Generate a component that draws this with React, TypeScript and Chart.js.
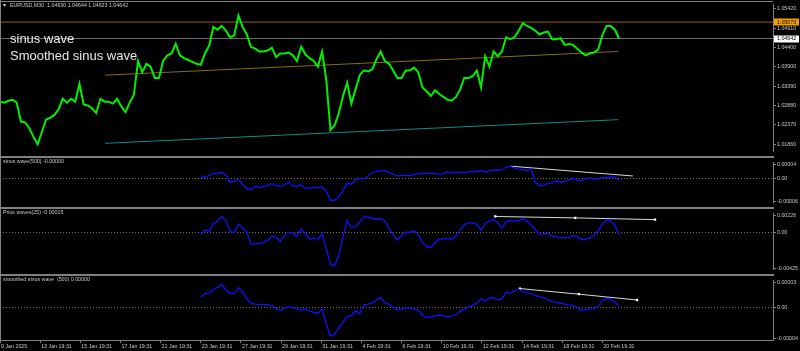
import { useEffect, useRef } from "react";
import { Chart, registerables } from "chart.js";

Chart.register(...registerables);

// ---------------- data ----------------
const DATE_LABELS = [
  "9 Jan 2025", "13 Jan 19:31", "15 Jan 19:31", "17 Jan 19:31", "21 Jan 19:31",
  "23 Jan 19:31", "27 Jan 19:31", "29 Jan 19:31", "31 Jan 19:31", "4 Feb 19:31",
  "6 Feb 19:31", "10 Feb 19:31", "12 Feb 19:31", "14 Feb 19:31", "18 Feb 19:31",
  "20 Feb 19:31",
];
const BARS_PER_LABEL = 96; // M30 bars between date labels
const TOTAL_BARS = 1848; // bars visible in the window
const SAMPLE_BARS = 10; // one sample every 10 bars
const INDICATOR_START_BAR = 480;

const SYMBOL = "EURUSD,M30";
const OHLC = ["1.04630", "1.04644", "1.04623", "1.04642"];

// EURUSD close, sampled every 10 bars from bar 0
const PRICE_CLOSE = [
  1.0298, 1.02955, 1.03005, 1.0303, 1.02955, 1.02457, 1.02432, 1.02283, 1.02059, 1.0186,
  1.02183, 1.02507, 1.02557, 1.02632, 1.02781, 1.03055, 1.02955, 1.03055, 1.0298, 1.03453,
  1.02906, 1.02881, 1.02806, 1.02681, 1.03055, 1.0298, 1.0298, 1.02931, 1.03055, 1.02856,
  1.02706, 1.02955, 1.03155, 1.04051, 1.03752, 1.03976, 1.03902, 1.03603, 1.03603, 1.04051,
  1.042, 1.0425, 1.04499, 1.042, 1.04126, 1.04076, 1.04026, 1.03976, 1.03951, 1.0425,
  1.04449, 1.04947, 1.04873, 1.04972, 1.04848, 1.04674, 1.04723, 1.05246, 1.04947, 1.04748,
  1.04424, 1.04375, 1.043, 1.043, 1.04325, 1.044, 1.04151, 1.0425, 1.0425, 1.04275,
  1.042, 1.04051, 1.04424, 1.04225, 1.04126, 1.04051, 1.03902, 1.043, 1.03553, 1.02233,
  1.02358, 1.02681, 1.0313, 1.03478, 1.02931, 1.03304, 1.03678, 1.03802, 1.03777, 1.03827,
  1.04101, 1.043, 1.04051, 1.03976, 1.03802, 1.03603, 1.03603, 1.03802, 1.03802, 1.03877,
  1.03752, 1.03354, 1.03254, 1.0313, 1.03279, 1.0318, 1.03105, 1.0303, 1.03005, 1.03105,
  1.03304, 1.03603, 1.03603, 1.03653, 1.03802, 1.03354, 1.04176, 1.03902, 1.043, 1.04176,
  1.043, 1.04674, 1.04624, 1.04674, 1.04848, 1.05047, 1.04972, 1.04922, 1.04848, 1.04748,
  1.04798, 1.04823, 1.04624, 1.04624, 1.04649, 1.04474, 1.04499, 1.04474, 1.04375, 1.04275,
  1.042, 1.0425, 1.04275, 1.0435, 1.04723, 1.04972, 1.04972, 1.04873, 1.04642,
];

// sinus wave(500), in millionths
const SINUS_WAVE_MICRO = [
  2.5, 3.5, 6.7, 12.9, 11.9, 15.0, 8.7, -9.4, -7.9, -2.7,
  -14.2, -24.6, -28.7, -19.8, -22.5, -19.4, -17.3, -13.1, -17.3, -19.4,
  -16.2, -9.0, -18.3, -19.4, -16.2, -24.6, -23.5, -22.5, -22.5, -21.5,
  -30.8, -53.7, -53.7, -45.4, -29.8, -12.1, -14.2, -2.7, -0.6, -0.6,
  6.7, 14.0, 17.1, 18.5, 19.2, 14.0, 10.8, 5.6, 7.7, 7.7,
  6.7, 10.8, 11.5, 12.9, 11.9, 12.9, 11.9, 10.8, 11.9, 16.0,
  14.0, 15.0, 15.0, 15.0, 16.0, 17.1, 17.1, 20.2, 15.0, 19.2,
  21.2, 20.2, 21.9, 27.5, 29.6, 25.4, 22.7, 21.9, 20.2, 23.3,
  -10.0, -17.7, -16.2, -12.1, -11.0, -5.8, -9.4, -6.9, -3.7, 0.4,
  -3.7, -5.8, -1.0, 1.5, -1.0, -1.0, 2.5, 3.1, 4.0, 3.1,
  -3.7,
];

// Price waves(25)
const PRICE_WAVES = [
  -0.00013, 0.00033, 0.00017, 0.00104, 0.00134, 0.00185, 0.00144, 0.00017, 0.00002, 0.00101,
  0.00053, 0.00012, -0.0013, -0.00123, -0.00123, -0.0011, -0.00084, -0.00039, -0.00049, -0.001,
  -0.00028, 0.00005, -0.00003, -0.00044, 0.00043, -0.00008, -0.00072, -0.00059, -0.00074, -0.00008,
  -0.00181, -0.00359, -0.00379, -0.00252, -0.00044, 0.00144, 0.00063, 0.0007, 0.00129, 0.00182,
  0.0018, 0.00165, 0.00159, 0.00165, 0.00134, 0.00053, -0.00023, -0.00084, -0.00028, 0.00007,
  0.00007, 0.00022, -0.00018, -0.0011, -0.00156, -0.00171, -0.0011, -0.00069, -0.00066, -0.00066,
  -0.00071, -0.00039, 0.00038, 0.00094, 0.00114, 0.00114, 0.00097, 0.00033, 0.00114, 0.00134,
  0.0016, 0.00114, 0.00053, 0.00129, 0.00147, 0.00136, 0.00139, 0.00162, 0.00132, 0.00091,
  0.00033, -0.00018, -0.00011, -0.00005, -0.00039, -0.00047, -0.00054, -0.00056, -0.00051, -0.00032,
  -0.00044, -0.00074, -0.00074, -0.00057, -0.00037, 0.00029, 0.00099, 0.00147, 0.00139, 0.00088,
  -0.00023,
];

// smoothed sinus wave (500), in millionths
const SMOOTHED_WAVE_MICRO = [
  12.4, 16.2, 16.7, 21.1, 23.5, 27.1, 21.1, 16.7, 16.2, 23.3,
  18.9, 10.2, 5.0, 3.9, 3.8, 3.3, 3.3, 2.0, -1.3, -3.5,
  -0.8, 0.3, 0.1, -1.5, -3.0, -1.6, -4.0, -5.7, -6.9, -1.9,
  -19.4, -33.6, -31.2, -23.7, -17.2, -10.6, -9.5, -4.0, -7.3, 3.1,
  3.9, 5.3, 9.1, 11.8, 5.3, 3.8, 0.3, -2.6, -2.1, -0.5,
  -0.3, -1.9, -3.3, -9.0, -11.7, -11.4, -9.4, -8.9, -9.8, -10.6,
  -10.0, -7.9, -4.6, -1.9, 0.5, 2.2, 5.6, 10.2, 7.7, 11.3,
  11.3, 9.1, 10.2, 17.8, 16.7, 19.1, 21.4, 18.9, 17.3, 16.1,
  14.2, 12.6, 11.3, 9.1, 6.9, 6.0, 5.0, 4.0, 2.8, 2.1,
  0.3, -3.3, -2.4, -1.5, -1.3, 1.1, 8.0, 10.5, 10.2, 6.0,
  2.0,
];

const PRICE_TICKS = [1.0542, 1.0491, 1.044, 1.039, 1.0339, 1.0288, 1.0237, 1.0186];
const PRICE_MIN = 1.01661;
const PRICE_MAX = 1.05545;
const ORANGE_LEVEL = 1.05073;
const GRAY_LEVEL = 1.04642;
const UPPER_CHANNEL_BARS = [251, 1478];
const UPPER_CHANNEL_PRICES = [1.03678, 1.043];
const LOWER_CHANNEL_BARS = [251, 1478];
const LOWER_CHANNEL_PRICES = [1.01885, 1.02507];

const SINUS_TREND_BARS = [1220, 1513];
const SINUS_TREND_MICRO = [30.2, 6.0];
const WAVES_TREND_BARS = [1184, 1375, 1566];
const WAVES_TREND = [0.00188, 0.00172, 0.00152];
const SMOOTH_TREND_BARS = [1243, 1384, 1523];
const SMOOTH_TREND_MICRO = [22.2, 15.6, 8.8];

const SINUS_RANGE = [-0.00006, 0.00004];
const SINUS_LABELS = ["0.00004", "0.00", "-0.00006"];
const WAVES_RANGE = [-0.00425, 0.00226];
const WAVES_LABELS = ["0.00226", "0.00", "-0.00425"];
const SMOOTH_RANGE = [-0.000038, 0.000032];
const SMOOTH_LABELS = ["0.00003", "0.00", "-0.00004"];

const TITLES = ["sinus wave(500) -0.00000", "Price waves(25) -0.00015", "smoothed sinus wave  (500) 0.00000"];
const BIG_LABELS = ["sinus wave", "Smoothed sinus wave"];

// ---------------- style ----------------
const W = 800;
const AXIS_W = 27;
const FRAME = "#808080";
const TEXT = "#c8c8c8";
const SMALL_FONT = { family: "'Liberation Sans', Arial, sans-serif", size: 5.3 };
const BLUE = "#1010ff";
const ZERO_COLOR = "#8a7420";

const PANELS = [
  { top: 0, height: 156 },
  { top: 158, height: 49 },
  { top: 209, height: 65 },
  { top: 276, height: 75, axisH: 11 },
];

function xScale(show: boolean) {
  if (!show) return { type: "linear", min: 0, max: TOTAL_BARS, display: false };
  return {
    type: "linear",
    min: 0,
    max: TOTAL_BARS,
    afterBuildTicks: (s: any) => {
      s.ticks = DATE_LABELS.map((_, i) => ({ value: i * BARS_PER_LABEL }));
    },
    afterFit: (s: any) => {
      s.height = 11;
      s.paddingLeft = 0;
      s.paddingRight = 0;
    },
    ticks: {
      callback: (_v: any, i: number) => DATE_LABELS[i],
      align: "start",
      maxRotation: 0,
      minRotation: 0,
      autoSkip: false,
      color: TEXT,
      font: SMALL_FONT,
      padding: 0,
      labelOffset: 1,
    },
    grid: { drawOnChartArea: false, tickLength: 3, tickColor: FRAME },
    border: { color: FRAME, width: 1 },
  };
}

function indicatorY(range: number[], labels: string[], plotH: number) {
  const [min, max] = range;
  const u = (max - min) / plotH;
  return {
    position: "right",
    min,
    max,
    afterFit: (s: any) => {
      s.width = AXIS_W;
    },
    afterBuildTicks: (s: any) => {
      s.ticks = [{ value: max - 3 * u }, { value: 0 }, { value: min + 2 * u }];
    },
    ticks: {
      callback: (_v: any, i: number) => labels[i],
      color: TEXT,
      font: SMALL_FONT,
      padding: 1,
      autoSkip: false,
    },
    grid: {
      color: (c: any) => (c.index === 1 ? ZERO_COLOR : "rgba(0,0,0,0)"),
      tickColor: FRAME,
      tickLength: 3,
      lineWidth: 1,
    },
    border: { color: FRAME, width: 1, dash: [1, 2] },
  };
}

function baseOptions(scales: any, plugins: any = {}) {
  return {
    animation: false,
    responsive: false,
    maintainAspectRatio: false,
    events: [],
    layout: { padding: 0, autoPadding: false },
    plugins: { legend: { display: false }, tooltip: { enabled: false }, ...plugins },
    elements: { point: { radius: 0 }, line: { tension: 0 } },
    scales,
  };
}

function titlePlugin(text: string) {
  return {
    id: "panelTitle",
    afterDraw(chart: any) {
      const ctx = chart.ctx;
      ctx.save();
      ctx.font = `${SMALL_FONT.size}px ${SMALL_FONT.family}`;
      ctx.fillStyle = TEXT;
      ctx.textBaseline = "middle";
      ctx.fillText(text, 3, 4);
      ctx.restore();
    },
  };
}

const mainOverlay = {
  id: "mainOverlay",
  afterDraw(chart: any) {
    const { ctx, scales } = chart;
    ctx.save();
    ctx.font = `${SMALL_FONT.size}px ${SMALL_FONT.family}`;
    ctx.fillStyle = TEXT;
    ctx.textBaseline = "middle";
    ctx.fillText("\u25BC", 2, 6);
    ctx.fillText(`${SYMBOL}  ${OHLC.join(" ")}`, 10, 6);
    ctx.font = "13px 'Liberation Sans', Arial, sans-serif";
    ctx.fillStyle = "#e8e8e8";
    ctx.textBaseline = "alphabetic";
    ctx.fillText(BIG_LABELS[0], 10, 43);
    ctx.fillText(BIG_LABELS[1], 10, 60);
    const boxes = [
      { v: ORANGE_LEVEL, bg: "#f0a000" },
      { v: GRAY_LEVEL, bg: "#ffffff" },
    ];
    ctx.font = `${SMALL_FONT.size}px ${SMALL_FONT.family}`;
    ctx.textBaseline = "middle";
    for (const b of boxes) {
      const y = scales.y.getPixelForValue(b.v);
      ctx.fillStyle = b.bg;
      ctx.fillRect(W - AXIS_W + 1, Math.round(y) - 3.5, AXIS_W - 2, 7);
      ctx.fillStyle = "#000";
      ctx.fillText(b.v.toFixed(5), W - AXIS_W + 4, y);
    }
    ctx.restore();
  },
};

function series(values: number[], startBar: number, scale = 1) {
  return values.map((v, i) => ({ x: startBar + i * SAMPLE_BARS, y: v * scale }));
}
function pairs(bars: number[], vals: number[], scale = 1) {
  return bars.map((b, i) => ({ x: b, y: vals[i] * scale }));
}
function level(v: number) {
  return [{ x: 0, y: v }, { x: TOTAL_BARS, y: v }];
}

export default function App() {
  const r0 = useRef<HTMLCanvasElement>(null);
  const r1 = useRef<HTMLCanvasElement>(null);
  const r2 = useRef<HTMLCanvasElement>(null);
  const r3 = useRef<HTMLCanvasElement>(null);

  useEffect(() => {
    const charts: Chart[] = [];
    const trendStyle = {
      borderColor: "#d8d8d8",
      borderWidth: 1,
      pointRadius: 1.6,
      pointStyle: "rect",
      pointBackgroundColor: "#ffffff",
      pointBorderWidth: 0,
    };

    charts.push(
      new Chart(r0.current!, {
        type: "line",
        data: {
          datasets: [
            { data: series(PRICE_CLOSE, 0), borderColor: "#00f000", borderWidth: 2 },
            { data: level(ORANGE_LEVEL), borderColor: "#9a5f10", borderWidth: 1 },
            { data: level(GRAY_LEVEL), borderColor: "#6a6a6a", borderWidth: 1 },
            { data: pairs(UPPER_CHANNEL_BARS, UPPER_CHANNEL_PRICES), borderColor: "#8a6c14", borderWidth: 1 },
            { data: pairs(LOWER_CHANNEL_BARS, LOWER_CHANNEL_PRICES), borderColor: "#13898b", borderWidth: 1 },
          ] as any,
        },
        options: baseOptions({
          x: xScale(false),
          y: {
            position: "right",
            min: PRICE_MIN,
            max: PRICE_MAX,
            afterFit: (s: any) => {
              s.width = AXIS_W;
            },
            afterBuildTicks: (s: any) => {
              s.ticks = PRICE_TICKS.map((v) => ({ value: v }));
            },
            ticks: {
              callback: (v: any) => Number(v).toFixed(5),
              color: TEXT,
              font: SMALL_FONT,
              padding: 1,
              autoSkip: false,
            },
            grid: { drawOnChartArea: false, tickColor: FRAME, tickLength: 3 },
            border: { color: FRAME, width: 1 },
          },
        }) as any,
        plugins: [mainOverlay],
      })
    );

    const indicator = (
      canvas: HTMLCanvasElement,
      data: any[],
      trend: any[],
      range: number[],
      labels: string[],
      plotH: number,
      showX: boolean,
      title: string,
      trendPoints: boolean
    ) =>
      new Chart(canvas, {
        type: "line",
        data: {
          datasets: [
            { data, borderColor: BLUE, borderWidth: 1.3 },
            { data: trend, ...trendStyle, pointRadius: trendPoints ? 1.6 : 0 },
          ] as any,
        },
        options: baseOptions({ x: xScale(showX), y: indicatorY(range, labels, plotH) }) as any,
        plugins: [titlePlugin(title)],
      });

    charts.push(
      indicator(
        r1.current!,
        series(SINUS_WAVE_MICRO, INDICATOR_START_BAR, 1e-6),
        pairs(SINUS_TREND_BARS, SINUS_TREND_MICRO, 1e-6),
        SINUS_RANGE,
        SINUS_LABELS,
        PANELS[1].height,
        false,
        TITLES[0],
        false
      )
    );
    charts.push(
      indicator(
        r2.current!,
        series(PRICE_WAVES, INDICATOR_START_BAR),
        pairs(WAVES_TREND_BARS, WAVES_TREND),
        WAVES_RANGE,
        WAVES_LABELS,
        PANELS[2].height,
        false,
        TITLES[1],
        true
      )
    );
    charts.push(
      indicator(
        r3.current!,
        series(SMOOTHED_WAVE_MICRO, INDICATOR_START_BAR, 1e-6),
        pairs(SMOOTH_TREND_BARS, SMOOTH_TREND_MICRO, 1e-6),
        SMOOTH_RANGE,
        SMOOTH_LABELS,
        PANELS[3].height - (PANELS[3].axisH || 0),
        true,
        TITLES[2],
        true
      )
    );

    return () => charts.forEach((c) => c.destroy());
  }, []);

  const refs = [r0, r1, r2, r3];
  const plotW = W - AXIS_W;
  return (
    <div style={{ position: "fixed", left: 0, top: 0, width: W, height: 351, background: "#000", overflow: "hidden" }}>
      {PANELS.map((p, i) => (
        <canvas
          key={i}
          ref={refs[i]}
          width={W}
          height={p.height}
          style={{ position: "absolute", left: 0, top: p.top, width: W, height: p.height }}
        />
      ))}
      <div style={{ position: "absolute", left: 0, top: 1, width: plotW, height: 1, background: FRAME }} />
      <div style={{ position: "absolute", left: 0, top: 0, width: 1, height: 341, background: FRAME }} />
      <div style={{ position: "absolute", left: 0, top: 156, width: plotW + 1, height: 2, background: FRAME }} />
      <div style={{ position: "absolute", left: 0, top: 207, width: plotW + 1, height: 2, background: FRAME }} />
      <div style={{ position: "absolute", left: 0, top: 274, width: plotW + 1, height: 2, background: FRAME }} />
    </div>
  );
}
